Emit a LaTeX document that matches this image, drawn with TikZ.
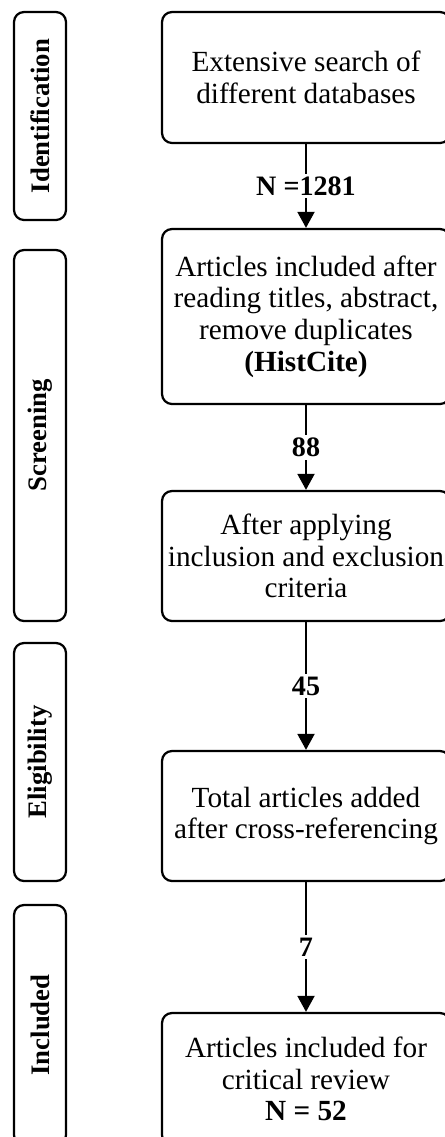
\documentclass[tikz,border=0pt]{standalone}
\usepackage{fontspec}
\setmainfont{Liberation Serif}
\usetikzlibrary{arrows.meta}

\begin{document}
\begin{tikzpicture}[
    >={Triangle[length=0.4cm,width=0.42cm]},
    phasebox/.style={draw,line width=1.6pt,rounded corners=0.25cm,rotate=90,
        minimum height=1.3cm,inner sep=0pt,font=\fontsize{19}{22}\selectfont\bfseries},
    stagebox/.style={draw,line width=1.6pt,rounded corners=0.25cm,minimum width=7.2cm,
        inner sep=0pt,align=center,font=\fontsize{20.8}{22.5}\selectfont},
    countlabel/.style={fill=white,inner sep=2pt,font=\fontsize{20}{22}\selectfont\bfseries}
  ]
  \useasboundingbox (0,0) rectangle (11.1,-28.425);

  % Phases
  \foreach \name/\txt/\y/\h in {ident/Identification/-2.9/5.2, screen/Screening/-10.8875/9.275,
                               elig/Eligibility/-19.05/5.95, incl/Included/-25.625/6.0} {
      \node[phasebox,minimum width=\h cm] (\name) at (1.0,\y) {\txt};
  }

  % Steps
  \node[stagebox,minimum height=3.275cm] (search) at (7.65,-1.9375)
      {Extensive search of\\different databases};
  \node[stagebox,minimum height=4.375cm] (titles) at (7.65,-7.9125)
      {Articles included after\\reading titles, abstract,\\remove duplicates\\\textbf{(HistCite)}};
  \node[stagebox,minimum height=3.25cm] (criteria) at (7.65,-13.9)
      {After applying\\inclusion and exclusion\\criteria};
  \node[stagebox,minimum height=3.25cm] (crossref) at (7.65,-20.4)
      {Total articles added\\after cross-referencing};
  \node[stagebox,minimum height=3.3cm] (review) at (7.65,-26.975)
      {Articles included for\\critical review\\\textbf{N = 52}};

  % Counts
  \draw[->,line width=1.8pt] (search) -- node[countlabel] {N =1281} (titles);
  \draw[->,line width=1.8pt] (titles) -- node[countlabel] {88} (criteria);
  \draw[->,line width=1.8pt] (criteria) -- node[countlabel] {45} (crossref);
  \draw[->,line width=1.8pt] (crossref) -- node[countlabel] {7} (review);
\end{tikzpicture}
\end{document}
